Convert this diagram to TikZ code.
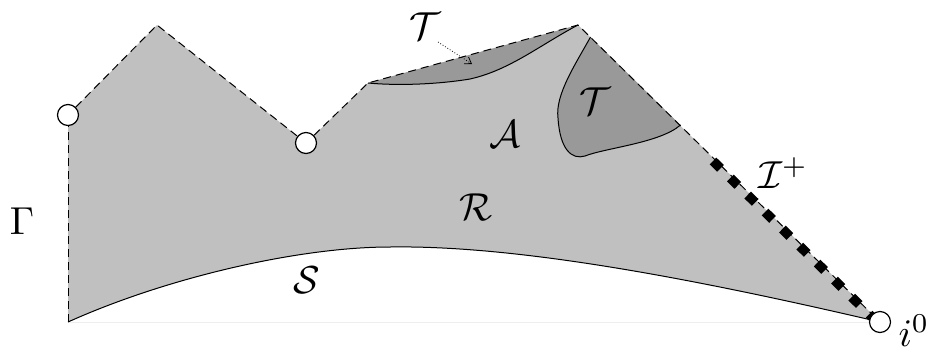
\documentclass[tikz,border=0pt]{standalone}
\usetikzlibrary{arrows.meta}
\newcommand{\biglab}[1]{\scalebox{3.9}{$#1$}}
\begin{document}
\begin{tikzpicture}[x=1pt,y=-1pt,
  bnd/.style={line width=1pt,dash pattern=on 8pt off 5pt},
  solidb/.style={line width=1pt},
  endpt/.style={circle,draw,fill=white,line width=1.2pt,minimum size=21pt,inner sep=0pt},
  lab/.style={inner sep=0pt},
  scri/.style={line width=9.5pt,dash pattern=on 10.5pt off 13.8pt}]
\useasboundingbox (0,0) rectangle (936,354);
\definecolor{regfill}{HTML}{C0C0C0}
\definecolor{trfill}{HTML}{999999}
\definecolor{faint}{HTML}{EEEEEE}
% corners
\coordinate (A) at (68,322);
\coordinate (B) at (68,115);
\coordinate (C) at (157,25);
\coordinate (D) at (306,143);
\coordinate (E) at (368,83);
\coordinate (F) at (578,25);
\coordinate (G) at (880,322);
\coordinate (P1) at (590.5,37);
\coordinate (P2) at (680.5,125);
\coordinate (Q1) at (713,161);
\coordinate (Q2) at (872,317);
% faint base line
\draw[faint,line width=0.8pt] (A) -- (G);
% main region
\fill[regfill] (A) -- (B) -- (C) -- (D) -- (E) -- (F) -- (G)
  .. controls (700,280) and (520,245) .. (390,247)
  .. controls (300,247) and (168,277) .. (A) -- cycle;
% trapped regions
\fill[trfill] (E) -- (F) .. controls (540,45) and (510,70) .. (470,79)
  .. controls (440,84) and (400,86) .. (E) -- cycle;
\fill[trfill] (P1) -- (P2) .. controls (660,143) and (605,148) .. (585,156)
  .. controls (572,160) and (560,150) .. (558,118)
  .. controls (555,95) and (575,65) .. (P1) -- cycle;
% solid curves
\draw[solidb] (G) .. controls (700,280) and (520,245) .. (390,247)
  .. controls (300,247) and (168,277) .. (A);
\draw[solidb] (F) .. controls (540,45) and (510,70) .. (470,79)
  .. controls (440,84) and (400,86) .. (E);
\draw[solidb] (P2) .. controls (660,143) and (605,148) .. (585,156)
  .. controls (572,160) and (560,150) .. (558,118)
  .. controls (555,95) and (575,65) .. (P1);
% scri+
\draw[scri] (Q1) -- (Q2);
% endpoints
\node[endpt] (nB) at (B) {};
\node[endpt] (nD) at (D) {};
\node[endpt] (nG) at (G) {};
% dashed boundaries
\draw[bnd] (A) -- (nB.south);
\draw[bnd] (nB) -- (C) -- (nD);
\draw[bnd] (nD) -- (E) -- (F) -- (nG);
% labels
\node[lab] (lT1) at (425,26) {\biglab{\mathcal{T}}};
\node[lab] (lT2) at (595,101) {\biglab{\mathcal{T}}};
\node[lab] (lA) at (505,134) {\biglab{\mathcal{A}}};
\node[lab] (lR) at (476,207) {\biglab{\mathcal{R}}};
\node[lab] (lS) at (307,280) {\biglab{\mathcal{S}}};
\node[lab] (lG) at (22,221) {\biglab{\Gamma}};
\node[lab] (lI) at (783,173) {\biglab{\mathcal{I}^+}};
\node[lab] (li) at (914,331) {\biglab{i^0}};
\coordinate (arrend) at (472,64);
\draw[line width=0.8pt,dotted,-{Straight Barb[length=6pt,width=8pt]}] (438,42) -- (arrend);
\end{tikzpicture}
\end{document}
